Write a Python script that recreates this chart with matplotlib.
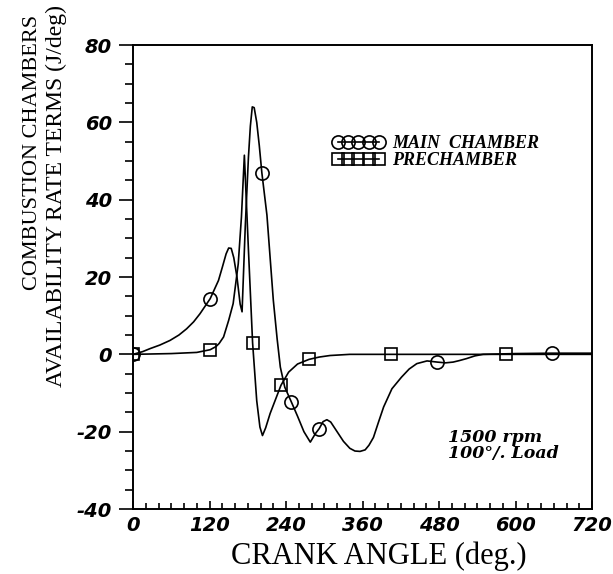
import matplotlib
matplotlib.use("Agg")
import matplotlib.pyplot as plt
from matplotlib.ticker import MultipleLocator
from matplotlib.font_manager import FontProperties

plt.rcParams['axes.unicode_minus'] = False

# main chamber curve (crank angle deg, J/deg)
main_x = [0, 15, 27, 42, 58, 72, 84, 95, 105, 121, 134, 140, 146, 150, 154, 158,
          163, 168, 171, 176, 181, 184, 187, 190, 194, 198, 202, 210, 220, 226,
          231, 238, 248, 258, 268, 278, 286, 292, 298, 304, 310, 320, 330, 340,
          348, 356, 364, 370, 377, 385, 393, 406, 421, 433, 445, 461, 477, 490,
          502, 512, 523, 536, 549, 600, 657, 720]
main_y = [0, 0.7, 1.5, 2.4, 3.6, 5, 6.6, 8.4, 10.5, 14.4, 19.1, 22.5, 26, 27.5,
          27.4, 25, 20, 13, 11, 33, 51, 59, 64, 63.8, 60, 54, 47, 36, 14, 4,
          -3.3, -8.5, -12.2, -16, -20, -22.7, -20.5, -19.2, -17.4, -16.9, -17.5,
          -20, -22.5, -24.3, -25, -25.1, -24.7, -23.5, -21.5, -17.5, -13.6, -8.9,
          -5.9, -3.8, -2.4, -1.7, -2, -2.2, -2, -1.6, -1.1, -0.4, 0, 0.2, 0.3, 0.3]
main_marks = [0, 121, 202, 248, 292, 477, 657]

# prechamber curve
pre_x = [0, 60, 100, 121, 130, 135, 142, 150, 157, 165, 170, 174.6, 181, 187.5,
         194, 199, 203, 208, 215, 232, 244, 258, 276, 292, 309, 340, 405, 585, 720]
pre_y = [0, 0.2, 0.5, 1.2, 2, 2.8, 4.5, 8.8, 13.1, 23.4, 35.5, 51.5, 27, 3, -12,
         -18.8, -21, -19, -15.3, -8, -4.6, -2.5, -1.3, -0.7, -0.3, 0, 0, 0, 0]
pre_marks = [0, 121, 187.5, 232, 276, 405, 585]

xticks = [0, 120, 240, 360, 480, 600, 720]
yticks = [-40, -20, 0, 20, 40, 60, 80]

fig = plt.figure(figsize=(6.13, 5.74), dpi=100)
ax = fig.add_axes([0.217, 0.1132, 0.749, 0.8084])

lw = 1.2
ax.plot(main_x, main_y, color='black', linewidth=lw, marker='o', markersize=9.5,
        fillstyle='none', markeredgewidth=1.2,
        markevery=[main_x.index(v) for v in main_marks], label='MAIN  CHAMBER')
ax.plot(pre_x, pre_y, color='black', linewidth=lw, marker='s', markersize=8.5,
        fillstyle='none', markeredgewidth=1.2,
        markevery=[pre_x.index(v) for v in pre_marks], label='PRECHAMBER')

ax.set_xlim(0, 720)
ax.set_ylim(-40, 80)
ax.set_xticks(xticks)
ax.set_yticks(yticks)
ax.xaxis.set_minor_locator(MultipleLocator(20))
ax.yaxis.set_minor_locator(MultipleLocator(5))
ax.tick_params(axis='x', which='both', direction='in', top=False, width=1.2, pad=5)
ax.tick_params(axis='x', which='major', length=6)
ax.tick_params(axis='x', which='minor', length=4)
ax.tick_params(axis='y', which='both', direction='out', right=False, width=1.2, pad=5)
ax.tick_params(axis='y', which='major', length=10)
ax.tick_params(axis='y', which='minor', length=6)
for s in ax.spines.values():
    s.set_linewidth(1.4)

tickfont = FontProperties(family='DejaVu Sans', weight='bold', style='italic', size=14)
for lab in ax.get_xticklabels() + ax.get_yticklabels():
    lab.set_fontproperties(tickfont)

ax.set_xlabel('CRANK ANGLE (deg.)', family='Liberation Serif', fontsize=22,
              labelpad=0, va='baseline')
ax.xaxis.set_label_coords(0.535, -0.118)

fig.text(33 / 613, 1 - 152 / 574, 'COMBUSTION CHAMBERS', rotation=90,
         ha='center', va='center', family='Liberation Serif', fontsize=16)
fig.text(56 / 613, 1 - 196 / 574, 'AVAILABILITY RATE TERMS (J/deg)', rotation=90,
         ha='center', va='center', family='Liberation Serif', fontsize=17)

leg = ax.legend(loc='upper left', bbox_to_anchor=(0.434, 0.805), frameon=False,
                numpoints=5, handlelength=2.9, handletextpad=0.4,
                labelspacing=0.0, borderpad=0, borderaxespad=0,
                prop=dict(family='Liberation Serif', weight='bold',
                          style='italic', size=13))

ax.text(494, -23.5, '1500 rpm\n100°/. Load', family='DejaVu Serif',
        weight='bold', style='italic', fontsize=12.5, va='center', ha='left',
        linespacing=0.9)

plt.savefig('out.png', dpi=100)
